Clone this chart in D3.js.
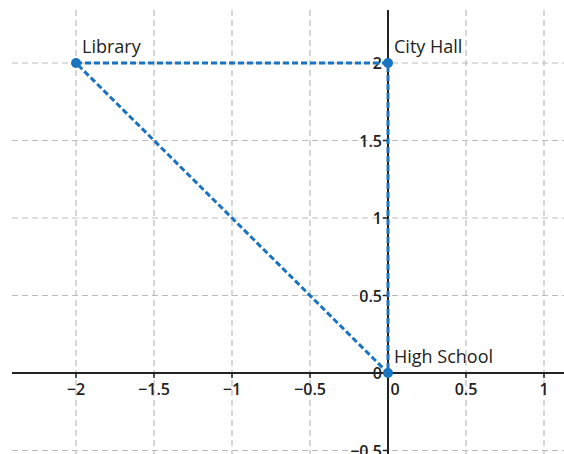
<!DOCTYPE html>
<html><head><meta charset="utf-8">
<script src="https://cdn.jsdelivr.net/npm/d3@7"></script>
<style>body{margin:0;background:#fff}svg{display:block}</style>
</head><body>
<script>
const names = ["Library", "City Hall", "High School"];
const xs = [-2, 0, 0];
const ys = [2, 2, 0];
const xTicks = [-2, -1.5, -1, -0.5, 0, 0.5, 1];
const yTicks = [-0.5, 0, 0.5, 1, 1.5, 2];

const W = 564, H = 454;
const svg = d3.select("body").append("svg").attr("width", W).attr("height", H);
const x = d3.scaleLinear().domain([-2, 0]).range([76, 388]);
const y = d3.scaleLinear().domain([0, 2]).range([373, 63]);
const font = "'Open Sans', 'Noto Sans', sans-serif";
const x0 = 12, y0 = 10;

// grid
svg.append("g").selectAll("line").data(xTicks).join("line")
  .attr("x1", d => x(d)).attr("x2", d => x(d)).attr("y1", y0).attr("y2", H)
  .attr("stroke", "#bbb").attr("stroke-width", 1.2).attr("stroke-dasharray", "6,4");
svg.append("g").selectAll("line").data(yTicks).join("line")
  .attr("y1", d => y(d)).attr("y2", d => y(d)).attr("x1", x0).attr("x2", W)
  .attr("stroke", "#bbb").attr("stroke-width", 1.2).attr("stroke-dasharray", "6,4");

// axes
svg.append("line").attr("x1", x0).attr("x2", W).attr("y1", y(0)).attr("y2", y(0))
  .attr("stroke", "#222").attr("stroke-width", 2);
svg.append("line").attr("x1", x(0)).attr("x2", x(0)).attr("y1", y0).attr("y2", H)
  .attr("stroke", "#222").attr("stroke-width", 2);

const fmt = d => (d < 0 ? "\u2212" : "") + Math.abs(d);
// x ticks
const gx = svg.append("g");
gx.selectAll("line").data(xTicks).join("line")
  .attr("x1", d => x(d)).attr("x2", d => x(d)).attr("y1", y(0)).attr("y2", y(0) + 5)
  .attr("stroke", "#222").attr("stroke-width", 1.5);
gx.selectAll("text").data(xTicks).join("text")
  .attr("x", d => d === 0 ? x(d) + 7 : x(d)).attr("y", y(0) + 22)
  .attr("text-anchor", "middle").attr("font-family", font).attr("font-size", 16)
  .attr("font-weight", 600).attr("fill", "#222").text(fmt);
// y ticks
const gy = svg.append("g");
gy.selectAll("line").data(yTicks).join("line")
  .attr("y1", d => y(d)).attr("y2", d => y(d)).attr("x1", x(0) - 5).attr("x2", x(0))
  .attr("stroke", "#222").attr("stroke-width", 1.5);
gy.selectAll("text").data(yTicks).join("text")
  .attr("x", x(0) - 6).attr("y", d => y(d) + 6)
  .attr("text-anchor", "end").attr("font-family", font).attr("font-size", 16)
  .attr("font-weight", 600).attr("fill", "#222").text(fmt);

// triangle path
const pts = names.map((n, i) => [xs[i], ys[i]]);
const blue = "#1a73c0";
svg.append("path")
  .attr("d", d3.line().x(d => x(d[0])).y(d => y(d[1]))([...pts, pts[0]]))
  .attr("fill", "none").attr("stroke", blue).attr("stroke-width", 3)
  .attr("stroke-dasharray", "6,3");

svg.append("g").selectAll("circle").data(pts).join("circle")
  .attr("cx", d => x(d[0])).attr("cy", d => y(d[1])).attr("r", 5).attr("fill", blue);

svg.append("g").selectAll("text").data(names).join("text")
  .attr("x", (d, i) => x(xs[i]) + 6).attr("y", (d, i) => y(ys[i]) - 10)
  .attr("font-family", font).attr("font-size", 18).attr("fill", "#222").text(d => d);
</script>
</body></html>
